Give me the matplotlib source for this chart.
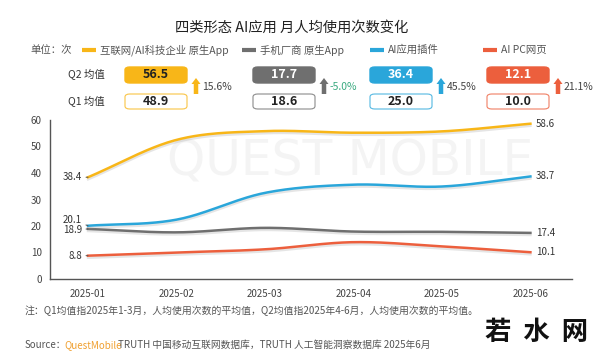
import numpy as np
import matplotlib
matplotlib.use('Agg')
import matplotlib.pyplot as plt
import matplotlib.patheffects as pe
from matplotlib.patches import FancyBboxPatch, FancyArrow

plt.rcParams['font.family'] = ['Noto Sans CJK SC', 'DejaVu Sans']

# ---- data ----
months = ['2025-01', '2025-02', '2025-03', '2025-04', '2025-05', '2025-06']
series_names = ['互联网/AI科技企业 原生App', '手机厂商 原生App', 'AI应用插件', 'AI PC网页']
native_app = [38.4, 52.5, 55.8, 55.2, 55.7, 58.6]
phone_app = [18.9, 17.6, 19.3, 17.9, 17.8, 17.4]
plugin = [20.1, 22.4, 32.5, 35.6, 34.9, 38.7]
pc_web = [8.8, 10.0, 11.2, 13.9, 12.3, 10.1]
q2_mean = ['56.5', '17.7', '36.4', '12.1']
q1_mean = ['48.9', '18.6', '25.0', '10.0']
growth = ['15.6%', '-5.0%', '45.5%', '21.1%']

colors = ['#F8B618', '#6F6F6F', '#2AA6DA', '#EC5F3D']
W, H = 600, 360


def fx(px):
    return px / W


def fy(py):
    return 1 - py / H


def smooth(y, n=40):
    # cubic hermite through the points, only for drawing smooth lines
    y = np.asarray(y, float)
    x = np.arange(len(y))
    m = np.gradient(y)
    xs, ys = [], []
    for i in range(len(y) - 1):
        t = np.linspace(0, 1, n)
        h00 = 2*t**3 - 3*t**2 + 1
        h10 = t**3 - 2*t**2 + t
        h01 = -2*t**3 + 3*t**2
        h11 = t**3 - t**2
        xs.append(x[i] + t)
        ys.append(h00*y[i] + h10*m[i] + h01*y[i+1] + h11*m[i+1])
    return np.concatenate(xs), np.concatenate(ys)


fig = plt.figure(figsize=(6, 3.6), dpi=100)
fig.patch.set_facecolor('white')

# faint watermark
fig.text(fx(350), fy(162), 'QUEST MOBILE', fontsize=35, color='#F4F4F4',
         ha='center', va='center', family='DejaVu Sans', zorder=-5)

ax = fig.add_axes([fx(50), fy(279), fx(572 - 50), (279 - 120) / H])
ax.set_facecolor('none')
ax.set_xlim(-0.43, 5.47)
ax.set_ylim(0, 60)
ax.set_yticks([0, 10, 20, 30, 40, 50, 60])
ax.set_xticks(range(len(months)))
ax.set_xticklabels(months)
ax.tick_params(length=0, labelsize=7, colors='#444444')
ax.tick_params(axis='x', pad=7)
ax.tick_params(axis='y', pad=6)
for s in ['top', 'right']:
    ax.spines[s].set_visible(False)
for s in ['left', 'bottom']:
    ax.spines[s].set_color('#555555')
    ax.spines[s].set_linewidth(1.0)

all_series = [native_app, phone_app, plugin, pc_web]
shadow = [pe.SimpleLineShadow(offset=(0, -1.5), shadow_color='#999999', alpha=0.25), pe.Normal()]
for vals, c in zip(all_series, colors):
    xs, ys = smooth(vals)
    ax.plot(xs, ys, color=c, lw=1.8, path_effects=shadow, zorder=3)

# start / end labels
left_pos = [38.4, 18.5, 22.2, 8.8]
for vals, ly in zip(all_series, left_pos):
    ax.annotate(f'{vals[0]}', xy=(0, vals[0]), xytext=(-0.07, ly), fontsize=7,
                color='#333333', ha='right', va='center',
                arrowprops=dict(arrowstyle='-', color='#555555', lw=0.7,
                                shrinkA=1, shrinkB=0))
for vals in all_series:
    ax.text(5.06, vals[-1], f'{vals[-1]}', fontsize=7, color='#333333',
            ha='left', va='center')

# title
fig.text(fx(292), fy(28), '四类形态 AI应用 月人均使用次数变化', fontsize=10.3,
         ha='center', va='center', color='#222222')

# legend row
fig.text(fx(30), fy(50), '单位：次', fontsize=7.5, color='#555555', va='center')
leg_x = [82, 242, 370, 483]
for lx, name, c in zip(leg_x, series_names, colors):
    fig.add_artist(plt.Line2D([fx(lx), fx(lx + 14)], [fy(50), fy(50)], color=c, lw=3,
                              solid_capstyle='butt'))
    fig.text(fx(lx + 18), fy(50), name, fontsize=7.5, color='#555555', va='center')

fig.text(fx(68), fy(75), 'Q2 均值', fontsize=7.5, color='#333333', va='center')
fig.text(fx(68), fy(102), 'Q1 均值', fontsize=7.5, color='#333333', va='center')

box_x = [125, 253, 370, 487]
box_w = 62
growth_colors = ['#444444', '#3AAA80', '#444444', '#444444']
for bx, c, q2, q1, g, gc in zip(box_x, colors, q2_mean, q1_mean, growth, growth_colors):
    top = FancyBboxPatch((fx(bx), fy(83)), fx(box_w), (83 - 67) / H,
                         boxstyle='round,pad=0,rounding_size=0.008',
                         transform=fig.transFigure, facecolor=c, edgecolor=c, lw=1)
    fig.add_artist(top)
    tcol = '#222222' if c == colors[0] else 'white'
    fig.text(fx(bx + box_w / 2), fy(75), q2, fontsize=9, fontweight='bold',
             color=tcol, ha='center', va='center')
    bot = FancyBboxPatch((fx(bx), fy(109)), fx(box_w), (109 - 94) / H,
                         boxstyle='round,pad=0,rounding_size=0.008',
                         transform=fig.transFigure, facecolor='white', edgecolor=c,
                         lw=0.8, alpha=0.8)
    fig.add_artist(bot)
    fig.text(fx(bx + box_w / 2), fy(101.5), q1, fontsize=9, fontweight='bold',
             color='#222222', ha='center', va='center')
    axx = bx + box_w + 9
    arr = FancyArrow(fx(axx), fy(94), 0, (94 - 78) / H, width=fx(4.5),
                     head_width=fx(9), head_length=6 / H, length_includes_head=True,
                     transform=fig.transFigure, color=c, lw=0)
    fig.add_artist(arr)
    fig.text(fx(axx + 6), fy(87), g, fontsize=7.5, color=gc, va='center')

# notes
fig.text(fx(25), fy(311), '注：Q1均值指2025年1-3月，人均使用次数的平均值，Q2均值指2025年4-6月，人均使用次数的平均值。',
         fontsize=7.1, color='#555555', va='center')
fig.text(fx(25), fy(345), 'Source：', fontsize=7, color='#555555', va='center')
fig.text(fx(64), fy(345), 'QuestMobile', fontsize=7, color='#F0A030', va='center')
fig.text(fx(118), fy(345), 'TRUTH 中国移动互联网数据库，TRUTH 人工智能洞察数据库 2025年6月',
         fontsize=7, color='#555555', va='center')

fig.text(fx(537), fy(333), '若  水  网', fontsize=19, color='#111111', ha='center',
         va='center', fontweight='bold')

fig.savefig('out.png', dpi=100)
